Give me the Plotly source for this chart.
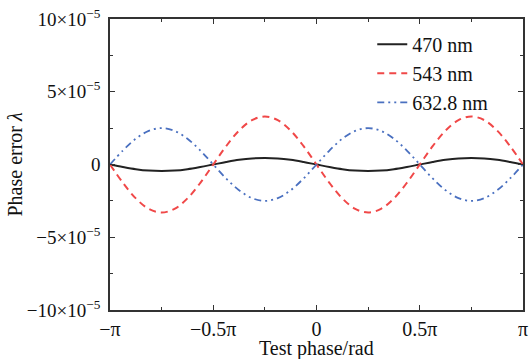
import plotly.graph_objects as go

# phase in units of pi
phase_pi = [-1.0, -0.9375, -0.875, -0.8125, -0.75, -0.6875, -0.625, -0.5625, -0.5,
            -0.4375, -0.375, -0.3125, -0.25, -0.1875, -0.125, -0.0625, 0.0,
            0.0625, 0.125, 0.1875, 0.25, 0.3125, 0.375, 0.4375, 0.5,
            0.5625, 0.625, 0.6875, 0.75, 0.8125, 0.875, 0.9375, 1.0]

# phase error in units of 1e-5 lambda
err_470 = [0, -0.17, -0.32, -0.42, -0.45, -0.42, -0.32, -0.17, 0,
           0.17, 0.32, 0.42, 0.45, 0.42, 0.32, 0.17, 0,
           -0.17, -0.32, -0.42, -0.45, -0.42, -0.32, -0.17, 0,
           0.17, 0.32, 0.42, 0.45, 0.42, 0.32, 0.17, 0]
err_543 = [0, -1.26, -2.33, -3.05, -3.3, -3.05, -2.33, -1.26, 0,
           1.26, 2.33, 3.05, 3.3, 3.05, 2.33, 1.26, 0,
           -1.26, -2.33, -3.05, -3.3, -3.05, -2.33, -1.26, 0,
           1.26, 2.33, 3.05, 3.3, 3.05, 2.33, 1.26, 0]
err_632 = [0, 0.96, 1.77, 2.31, 2.5, 2.31, 1.77, 0.96, 0,
           -0.96, -1.77, -2.31, -2.5, -2.31, -1.77, -0.96, 0,
           0.96, 1.77, 2.31, 2.5, 2.31, 1.77, 0.96, 0,
           -0.96, -1.77, -2.31, -2.5, -2.31, -1.77, -0.96, 0]

x_tickvals = [-1, -0.5, 0, 0.5, 1]
x_ticktext = ["−π", "−0.5π", "0", "0.5π", "π"]
y_tickvals = [-10, -5, 0, 5, 10]
y_ticktext = ["−10×10<sup>−5</sup>", "−5×10<sup>−5</sup>", "0",
              "5×10<sup>−5</sup>", "10×10<sup>−5</sup>"]

font = "Liberation Serif"
ink = "#111111"

fig = go.Figure()
fig.add_trace(go.Scatter(x=phase_pi, y=err_470, mode="lines", name="470 nm",
                         line=dict(color="#222222", width=2, shape="spline")))
fig.add_trace(go.Scatter(x=phase_pi, y=err_543, mode="lines", name="543 nm",
                         line=dict(color="#f04848", width=2, dash="7px,5px", shape="spline")))
fig.add_trace(go.Scatter(x=phase_pi, y=err_632, mode="lines", name="632.8 nm",
                         line=dict(color="#4a70c0", width=1.8,
                                   dash="7px,4px,2px,4px,2px,4px", shape="spline")))

axis_common = dict(showline=True, linecolor="#333333", linewidth=1.5, mirror="ticks",
                   ticks="inside", ticklen=5, tickcolor="#333333", tickwidth=1,
                   showgrid=False, zeroline=False, automargin=False)

fig.update_xaxes(range=[-1, 1], tickvals=x_tickvals, ticktext=x_ticktext,
                 tickfont=dict(family=font, size=20, color=ink),
                 ticklabeloverflow="allow",
                 minor=dict(ticks="inside", ticklen=3, tickcolor="#333333", dtick=0.25, tick0=0),
                 **axis_common)
fig.update_yaxes(range=[-10, 10], tickvals=y_tickvals, ticktext=y_ticktext,
                 tickfont=dict(family=font, size=19, color=ink),
                 ticklabelstandoff=4,
                 minor=dict(ticks="inside", ticklen=3, tickcolor="#333333", dtick=2.5, tick0=0),
                 **axis_common)

fig.add_annotation(text="Test phase/rad", xref="paper", yref="paper", x=0.5, y=0,
                   yshift=-38, xanchor="center", yanchor="middle", showarrow=False,
                   font=dict(family=font, size=20, color=ink))
fig.add_annotation(text="Phase error <i>λ</i>", xref="paper", yref="paper", x=0, y=0.5,
                   xshift=-96, xanchor="center", yanchor="middle", showarrow=False,
                   textangle=-90, font=dict(family=font, size=20, color=ink))

fig.update_layout(
    width=530, height=359,
    margin=dict(l=110, r=7, t=19, b=49),
    paper_bgcolor="white", plot_bgcolor="white",
    font=dict(family=font, size=19, color=ink),
    legend=dict(x=0.635, y=0.98, xanchor="left", yanchor="top",
                bgcolor="rgba(0,0,0,0)", font=dict(family=font, size=20),
                tracegroupgap=0, itemwidth=30),
    showlegend=True,
)

fig.write_html("out.html", config={"displayModeBar": False},
               post_script="document.body.style.margin='0';document.body.style.overflow='hidden';")
